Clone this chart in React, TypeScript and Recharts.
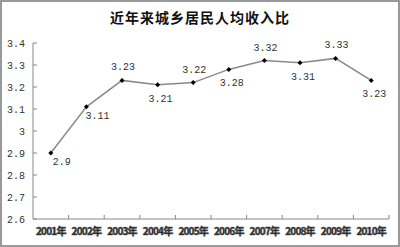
import { LineChart, Line, XAxis, YAxis } from 'recharts';

const years = ['2001年', '2002年', '2003年', '2004年', '2005年', '2006年', '2007年', '2008年', '2009年', '2010年'];
const ratio = [2.9, 3.11, 3.23, 3.21, 3.22, 3.28, 3.32, 3.31, 3.33, 3.23];
const yTicks = [2.6, 2.7, 2.8, 2.9, 3, 3.1, 3.2, 3.3, 3.4];
// where each value label sits relative to its point
const labelPos = ['right', 'right', 'top', 'bottom', 'top', 'bottom', 'top', 'bottom', 'top', 'bottom'];

const data = years.map((year, i) => ({ year, ratio: ratio[i] }));

const mono = '"Liberation Mono", "DejaVu Sans Mono", monospace';

const XTick = (props: any) => {
  const { x, y, payload, width } = props;
  const half = width / years.length / 2;
  return (
    <g>
      <line x1={x + half} x2={x + half} y1={y - 4} y2={y} stroke="#888" />
      <text
        x={x}
        y={y + 16}
        textAnchor="middle"
        fontSize={10}
        fontWeight="bold"
        letterSpacing={-0.8}
        fill="#111"
        stroke="#555"
        strokeWidth={0.6}
        fontFamily='"Liberation Sans Narrow", "Noto Sans CJK SC", sans-serif'
      >
        {payload.value}
      </text>
    </g>
  );
};

const Diamond = (props: any) => {
  const { cx, cy, index } = props;
  return <path key={index} d={`M${cx},${cy - 2.5}L${cx + 2.5},${cy}L${cx},${cy + 2.5}L${cx - 2.5},${cy}Z`} fill="#000" />;
};

const ValueLabel = (props: any) => {
  const { x, y, value, index } = props;
  const pos = labelPos[index];
  let dx = 1;
  let dy = -10;
  if (pos === 'bottom') { dx = 3; dy = 17; }
  if (pos === 'right') { dx = 11; dy = 12; }
  return (
    <text x={x + dx} y={y + dy} textAnchor="middle" fontSize={10} fill="#333" fontFamily={mono}>
      {value}
    </text>
  );
};

export default function App() {
  return (
    <div style={{ position: 'absolute', left: 0, top: 0, width: 400, height: 247, background: '#fff' }}>
      <div
        style={{
          position: 'absolute',
          top: 8,
          width: 400,
          textAlign: 'center',
          fontSize: 14,
          lineHeight: '18px',
          fontWeight: 'bold',
          letterSpacing: 1,
          color: '#111',
          fontFamily: '"Noto Sans CJK SC", sans-serif',
        }}
      >
        近年来城乡居民人均收入比
      </div>
      <LineChart width={400} height={247} data={data} margin={{ top: 43, right: 11, bottom: 0, left: 0 }}>
        <XAxis
          dataKey="year"
          scale="band"
          height={28}
          interval={0}
          tickSize={0}
          tickMargin={0}
          tick={<XTick />}
          stroke="#888"
        />
        <YAxis
          width={33}
          domain={[2.6, 3.4]}
          ticks={yTicks}
          interval={0}
          tickSize={-4}
          tickMargin={12}
          stroke="#888"
          tick={{ fontSize: 10, fill: '#333', fontFamily: mono }}
        />
        <Line
          dataKey="ratio"
          stroke="#8a8a8a"
          strokeWidth={1.5}
          dot={<Diamond />}
          label={<ValueLabel />}
          isAnimationActive={false}
        />
      </LineChart>
      <div
        style={{
          position: 'absolute',
          inset: 0,
          border: '2px solid #999',
          boxSizing: 'border-box',
          pointerEvents: 'none',
        }}
      />
    </div>
  );
}
